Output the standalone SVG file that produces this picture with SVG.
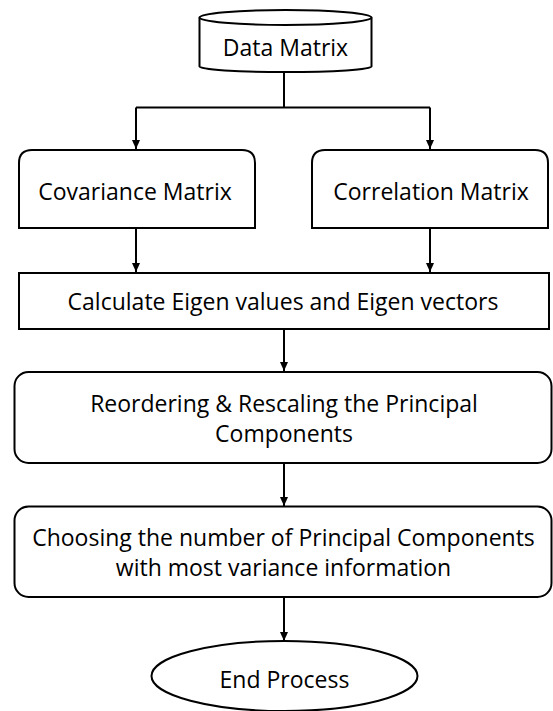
<svg xmlns="http://www.w3.org/2000/svg" width="553" height="711" viewBox="0 0 553 711">
<style>
.box{fill:#fff;stroke:#000;stroke-width:2}
.lbl{font-family:"Open Sans","Noto Sans","Liberation Sans",sans-serif;font-size:23px;fill:#000;text-anchor:middle}
.con{fill:none;stroke:#000;stroke-width:2}
</style>
<defs>
<marker id="ah" markerWidth="10" markerHeight="10" refX="9" refY="5" orient="auto" markerUnits="userSpaceOnUse">
<path d="M0,1 L9,5 L0,9 z" fill="#000"/>
</marker>
</defs>
<rect width="553" height="711" fill="#fff"/>
<g id="connectors">
<path class="con" d="M284,72 V107.5"/>
<path class="con" d="M136,107.5 H430"/>
<path class="con" d="M136,107.5 V149" marker-end="url(#ah)"/>
<path class="con" d="M430,107.5 V149" marker-end="url(#ah)"/>
<path class="con" d="M136,228 V272" marker-end="url(#ah)"/>
<path class="con" d="M430,228 V272" marker-end="url(#ah)"/>
<path class="con" d="M284,329 V371" marker-end="url(#ah)"/>
<path class="con" d="M284,463 V506" marker-end="url(#ah)"/>
<path class="con" d="M284,597 V641" marker-end="url(#ah)"/>
</g>
<g id="data-matrix">
<path class="box" d="M199.5,17.5 V66.5 A86,5.5 0 0 0 371.5,66.5 V17.5"/>
<ellipse class="box" cx="285.5" cy="17.5" rx="86" ry="7.5"/>
<text class="lbl" x="285.5" y="55.5">Data Matrix</text>
</g>
<g id="covariance">
<path class="box" d="M19,228 V163 Q19,150 32,150 H242 Q255,150 255,163 V228 Z"/>
<text class="lbl" x="135" y="200">Covariance Matrix</text>
</g>
<g id="correlation">
<path class="box" d="M312,228 V163 Q312,150 325,150 H535 Q548,150 548,163 V228 Z"/>
<text class="lbl" x="431" y="200">Correlation Matrix</text>
</g>
<g id="eigen">
<rect class="box" x="19" y="273" width="530" height="56"/>
<text class="lbl" x="283" y="310">Calculate Eigen values and Eigen vectors</text>
</g>
<g id="reorder">
<rect class="box" x="14.5" y="372" width="537" height="91" rx="14" ry="14"/>
<text class="lbl" x="284" y="411.5">Reordering &amp; Rescaling the Principal</text>
<text class="lbl" x="284" y="441.5">Components</text>
</g>
<g id="choosing">
<rect class="box" x="14.5" y="506.5" width="537" height="90.5" rx="14" ry="14"/>
<text class="lbl" x="283.5" y="545.5">Choosing the number of Principal Components</text>
<text class="lbl" x="283.5" y="576">with most variance information</text>
</g>
<g id="end">
<ellipse class="box" cx="284.5" cy="676" rx="133" ry="35"/>
<text class="lbl" x="284.5" y="687.5">End Process</text>
</g>
</svg>
